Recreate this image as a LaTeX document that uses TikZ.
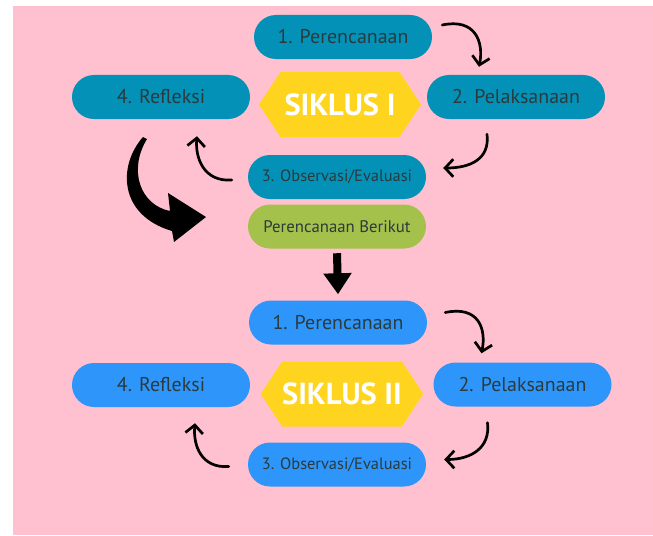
\documentclass[tikz,border=0pt]{standalone}
\usepackage{fontspec}
\setmainfont{PT Sans}
\usetikzlibrary{arrows.meta}
\usetikzlibrary{calc}
\usetikzlibrary{shapes.symbols}
\definecolor{mpink}{RGB}{255,193,208}
\definecolor{mteal}{RGB}{4,145,183}
\definecolor{mblue}{RGB}{46,150,250}
\definecolor{mgreen}{RGB}{164,193,75}
\definecolor{myellow}{RGB}{255,212,31}
\definecolor{mtext}{RGB}{43,58,60}
\tikzset{stage/.style = {rounded corners=0.66cm, minimum width=5.34cm, minimum height=1.32cm,
                         text=mtext, font=\fontsize{17}{20}\selectfont},
         hexa/.style = {signal, signal to=east and west, signal pointer angle=113,
                        fill=myellow, text=white, minimum width=4.86cm, minimum height=1.95cm,
                        inner sep=0pt, font=\fontsize{26}{30}\selectfont\bfseries},
         turn/.style = {line width=2.3pt, line cap=round,
                        -{Straight Barb[length=7pt, width=15pt]}}}

\begin{document}
\begin{tikzpicture}[x=0.03cm, y=-0.03cm]
    \useasboundingbox (0, 0) rectangle (653, 535);
    \fill [white] (0, 0) rectangle (653, 535);
    \fill [mpink] (13, 6) rectangle (653, 535);

    \begin{scope}
      \node [stage, fill=mteal] (plan1) at (343, 37) {1. Perencanaan};
      \node [stage, fill=mteal] (refl1) at (161, 97) {4. Refleksi};
      \node [stage, fill=mteal] (pel1) at (516, 97) {2. Pelaksanaan};
      \node [hexa] (siklus1) at (340, 104.5) {SIKLUS I};
      \node [stage, fill=mteal, font=\fontsize{14}{16}\selectfont] (obs1) at (337, 177) {3. Observasi/Evaluasi};
      \node [stage, fill=mgreen, font=\fontsize{14.3}{16}\selectfont] (next) at (337, 226.5) {Perencanaan Berikut};
      \draw [turn] ($(plan1.east)+(10, -12)$) .. controls +(33, -7) and +(5, -25) .. ($(pel1.north)+(-37, -8)$);
      \draw [turn] ($(pel1.south)+(-29, 15)$) .. controls +(3, 25) and +(27, 0) .. ($(obs1.east)+(17, -9)$);
      \draw [turn] ($(obs1.west)+(-16, 3)$) .. controls +(-27, 2) and +(-2, 23) .. ($(refl1.south)+(36, 17)$);
    \end{scope}

    \fill (143, 137) .. controls (118, 165) and (118, 215) .. (172, 231) -- (174, 242) -- (206, 217)
      -- (168, 193) -- (170, 211) .. controls (140, 205) and (128, 170) .. (147, 139) -- cycle;

    \begin{scope}
      \node [stage, fill=mblue] (plan2) at (338, 322.5) {1. Perencanaan};
      \node [stage, fill=mblue] (refl2) at (161, 385) {4. Refleksi};
      \node [stage, fill=mblue] (pel2) at (522.5, 384.5) {2. Pelaksanaan};
      \node [hexa] (siklus2) at (342, 394) {SIKLUS II};
      \node [stage, fill=mblue, font=\fontsize{14}{16}\selectfont] (obs2) at (337, 464.5) {3. Observasi/Evaluasi};
      \draw [turn] ($(plan2.east)+(18, -10)$) .. controls +(33, -7) and +(5, -25) .. ($(pel2.north)+(-41, -9)$);
      \draw [turn] ($(pel2.south)+(-35, 16)$) .. controls +(3, 25) and +(27, 0) .. ($(obs2.east)+(18, -5)$);
      \draw [turn] ($(obs2.west)+(-19, 2)$) .. controls +(-27, 2) and +(-2, 23) .. ($(refl2.south)+(34, 16)$);
    \end{scope}

    \draw [line width=0.24cm, -{Triangle[length=0.63cm, width=0.81cm]}]
      ($(next.south)+(0, 4.5)$) -- ($(plan2.north)+(0, -6)$);
\end{tikzpicture}
\end{document}
